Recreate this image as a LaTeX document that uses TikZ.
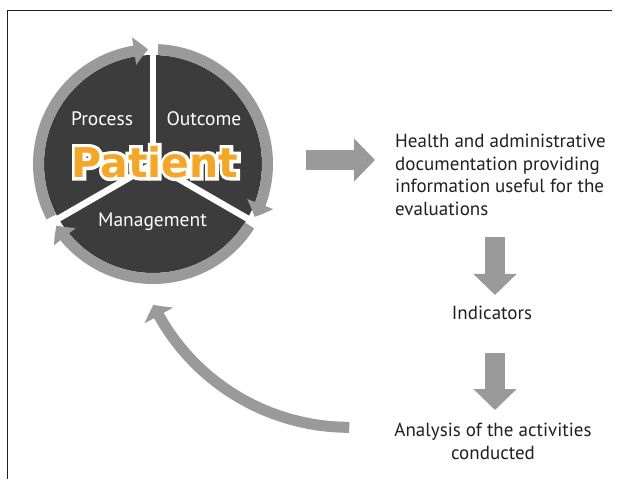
\documentclass[tikz,border=0pt]{standalone}
\usepackage{fontspec}
\setmainfont{PT Sans}
\newfontfamily\patientfont{DejaVu Sans}
\newfontfamily\patientrim{DejaVu Sans}[BoldFeatures={FakeBold=16}]
\usetikzlibrary{arrows.meta,bending,calc,positioning}

\definecolor{disk}{HTML}{3C3C3C}
\definecolor{ringgray}{HTML}{9A9A9A}
\definecolor{patorange}{HTML}{F5A623}
\definecolor{ink}{HTML}{231F20}

\tikzset{
  ring/.style={draw=ringgray, line width=11pt, -{Triangle[width=27pt,length=14pt,bend]}},
  bigarrow/.style={draw=ringgray, line width=20pt, -{Triangle[width=42pt,length=21pt]}},
  back/.style={draw=ringgray, line width=11pt, -{Triangle[width=32pt,length=12pt,bend]}},
  divider/.style={draw=white, line width=6.5pt},
  inlabel/.style={text=white, font=\fontsize{19.5}{21}\selectfont, inner sep=0pt},
  steptext/.style={text=ink, font=\fontsize{19}{22.5}\selectfont, inner sep=0pt},
  bigword/.style={font=\patientfont\bfseries\fontsize{41}{41}\selectfont, inner sep=0pt},
  bigrim/.style={font=\patientrim\bfseries\fontsize{41}{41}\selectfont, inner sep=0pt, text=white},
}

\begin{document}
\begin{tikzpicture}[x=1pt,y=1pt]
\useasboundingbox (0,0) rectangle (617,479);
% frame
\draw[line width=0.8pt,ink] (7,0) -- (7,469) -- (612,469);

% the cycle
\node[circle,fill=disk,minimum size=218pt,inner sep=0pt] (patient) at (153,315) {};
\foreach \a in {90,-30,210}
  \draw[divider] (patient.center) -- ([shift={(\a:125)}]patient.center);
\draw[ring] ([shift={(207.5:114.5)}]patient.center) arc[start angle=207.5, end angle=92.5, radius=114.5];
\draw[ring] ([shift={(87.5:114.5)}]patient.center) arc[start angle=87.5, end angle=-27.5, radius=114.5];
\draw[ring] ([shift={(-32.5:114.5)}]patient.center) arc[start angle=-32.5, end angle=-147.5, radius=114.5];

\node[inlabel] (process) at (102,360) {Process};
\node[inlabel] (outcome) at (204,360) {Outcome};
\node[inlabel] (management) at (152.5,257) {Management};

\coordinate (word) at ([shift={(2,2)}]patient.center);
\node[bigrim] (rim) at (word) {Patient};
\node[bigword,text=patorange] (title) at (word) {Patient};

% steps on the right
\node[steptext,align=left,anchor=north west] (docs) at (395,345)
  {Health and administrative\\documentation providing\\information useful for the\\evaluations};
\node[steptext] (ind) at (492,166) {Indicators};
\node[steptext,align=center,anchor=north] (analysis) at (493,56)
  {Analysis of the activities\\conducted};

\draw[bigarrow] ($(patient.east)+(44,4)$) -- ($(patient.east -| docs.west)+(-20,4)$);
\draw[bigarrow] ($(docs.south -| ind.north)+(3,-21)$) -- ($(ind.north)+(3,11)$);
\draw[bigarrow] ($(ind.south)+(3,-33)$) -- ($(analysis.north)+(2,13)$);
\draw[back] ($(analysis.west)+(-45,14)$) arc[start angle=270, end angle=206, radius=218];
\end{tikzpicture}
\end{document}
